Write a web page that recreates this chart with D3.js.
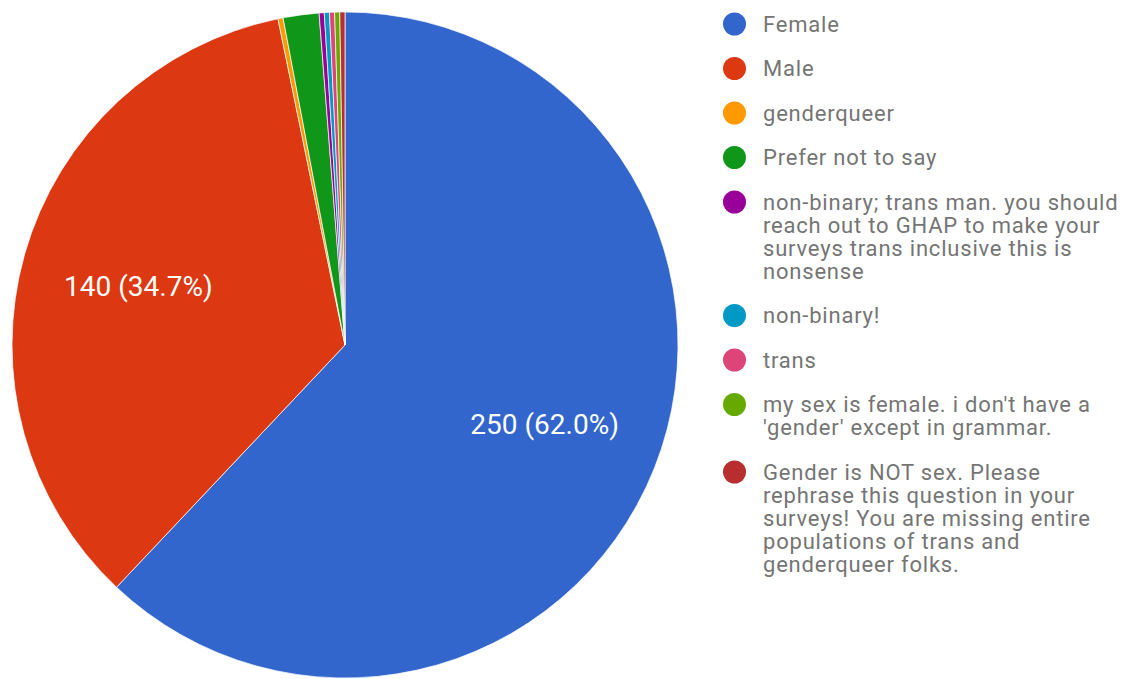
<!DOCTYPE html>
<html>
  <head>
    <meta charset="utf-8">
    <title>Gender</title>
    <script src="https://cdn.jsdelivr.net/npm/d3@7"></script>
    <style>
      body { margin: 0; background: #fff; }
      svg { display: block; font-family: Roboto, "Open Sans", sans-serif; }
      .legend text { fill: #757575; font-size: 22px; letter-spacing: 0.8px; }
      .label { fill: #fff; font-size: 28px; }
    </style>
  </head>

  <body>
    <div id="container"></div>

    <script>
      // data
      categories = [
        "Female",
        "Male",
        "genderqueer",
        "Prefer not to say",
        "non-binary; trans man. you should reach out to GHAP to make your surveys trans inclusive this is nonsense",
        "non-binary!",
        "trans",
        "my sex is female. i don't have a 'gender' except in grammar.",
        "Gender is NOT sex. Please rephrase this question in your surveys! You are missing entire populations of trans and genderqueer folks."
      ];
      values = [250, 140, 1, 7, 1, 1, 1, 1, 1];
      // legend lines as wrapped in the original
      legendLines = [
        ["Female"],
        ["Male"],
        ["genderqueer"],
        ["Prefer not to say"],
        ["non-binary; trans man. you should", "reach out to GHAP to make your", "surveys trans inclusive this is", "nonsense"],
        ["non-binary!"],
        ["trans"],
        ["my sex is female. i don't have a", "'gender' except in grammar."],
        ["Gender is NOT sex. Please", "rephrase this question in your", "surveys! You are missing entire", "populations of trans and", "genderqueer folks."]
      ];
      colours = ["#3366cc", "#dc3912", "#ff9900", "#109618", "#990099", "#0099c6", "#dd4477", "#66aa00", "#b82e2e"];

      width = 1127;
      height = 679;
      cx = 345;
      cy = 345;
      radius = 333;

      svg = d3.select("#container").append("svg")
        .attr("width", width)
        .attr("height", height);

      total = d3.sum(values);
      chartData = categories.map((c, i) => ({name: c, value: values[i], colour: colours[i]}));

      pie = d3.pie()
        .value(d => d.value)
        .sort(null);
      arc = d3.arc()
        .innerRadius(0)
        .outerRadius(radius);
      labelArc = d3.arc()
        .innerRadius(radius * 0.645)
        .outerRadius(radius * 0.645);

      slices = pie(chartData);

      pieGroup = svg.append("g")
        .attr("transform", "translate(" + cx + "," + cy + ")");

      pieGroup.selectAll("path")
        .data(slices)
        .enter().append("path")
          .attr("d", arc)
          .style("fill", d => d.data.colour)
          .style("stroke", "#fff")
          .style("stroke-width", 0.7);

      pieGroup.selectAll(".label")
        .data(slices.filter(d => d.value / total > 0.05))
        .enter().append("text")
          .classed("label", true)
          .attr("transform", d => "translate(" + labelArc.centroid(d) + ")")
          .attr("text-anchor", "middle")
          .attr("dy", "0.35em")
          .text(d => d.value + " (" + (d.value / total * 100).toFixed(1) + "%)");

      // legend
      lineHeight = 23;
      itemGap = 21.5;
      legend = svg.append("g")
        .classed("legend", true);

      y = 24;
      legendLines.forEach((lines, i) => {
        item = legend.append("g");
        item.append("circle")
          .attr("cx", 734.5)
          .attr("cy", y)
          .attr("r", 11.5)
          .style("fill", colours[i]);
        item.append("text")
          .selectAll("tspan")
            .data(lines)
          .enter().append("tspan")
            .attr("x", 763)
            .attr("y", (d, j) => y + j * lineHeight)
            .attr("dy", "0.35em")
            .text(d => d);
        y += lines.length * lineHeight + itemGap;
      });
    </script>
  </body>
</html>
